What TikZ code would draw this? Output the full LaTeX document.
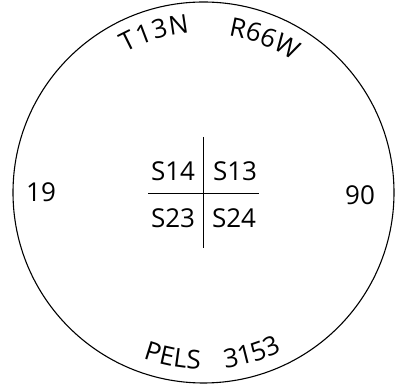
\documentclass[tikz,border=0pt]{standalone}
\usepackage{fontspec}
\setmainfont{Open Sans}
\usetikzlibrary{positioning,decorations.text}
\newcommand{\mapfont}{\fontsize{26}{31}\selectfont}

\begin{document}
\begin{tikzpicture}[x=1pt,y=1pt,
    lbl/.style={font=\mapfont,inner sep=0pt},
    arclbl/.style={decorate,decoration={text along path,text align=fit to path,text={|\mapfont|#1}}}]
  \useasboundingbox (0,0) rectangle (402,385);
  \coordinate (C) at (203.5,192.5);
  \draw[line width=1.1pt] (C) circle (190.5);
  % township / range on top, plat number below
  \path[arclbl=T13N,shift={(C)}] (119:160) arc (119:95:160);
  \path[arclbl=R66W,shift={(C)}] (81:159) arc (81:57:159);
  \path[arclbl=PELS,shift={(C)}] (250:177) arc (250:269:177);
  \path[arclbl=3153,shift={(C)}] (277:177) arc (277:295:177);
  \node[lbl] (w19) at (41,193) {19};
  \node[lbl] (e90) at (360,190) {90};
  % section cross
  \coordinate (vt) at (203.5,248);\coordinate (vb) at (203.5,137);
  \coordinate (hl) at (148,192);\coordinate (hr) at (259,192);
  \draw[line width=0.8pt] (vt)--(vb) (hl)--(hr);
  \node[lbl] (s14) at (173,214) {S14};
  \node[lbl] (s13) at (235,214) {S13};
  \node[lbl] (s23) at (173,167) {S23};
  \node[lbl] (s24) at (234,167) {S24};
\end{tikzpicture}
\end{document}
